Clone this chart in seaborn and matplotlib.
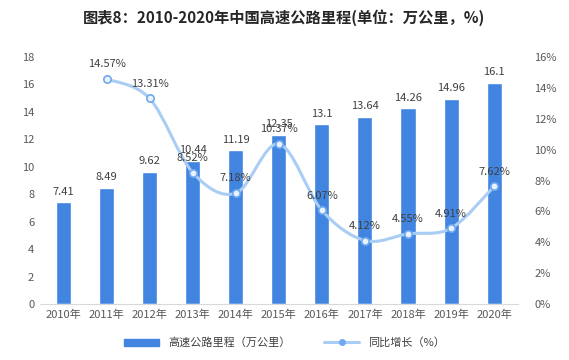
import numpy as np
import pandas as pd
import matplotlib
matplotlib.use("Agg")
import matplotlib.pyplot as plt
from matplotlib.path import Path
from matplotlib.patches import PathPatch
from matplotlib.lines import Line2D
from matplotlib.ticker import FuncFormatter
import seaborn as sns

# data
years = ["2010年", "2011年", "2012年", "2013年", "2014年", "2015年",
         "2016年", "2017年", "2018年", "2019年", "2020年"]
mileage = [7.41, 8.49, 9.62, 10.44, 11.19, 12.35, 13.1, 13.64, 14.26, 14.96, 16.1]
growth_years = years[1:]
growth = [14.57, 13.31, 8.52, 7.18, 10.37, 6.07, 4.12, 4.55, 4.91, 7.62]

bar_color = "#4185E0"
line_color = "#A9CDF5"
dot_color = "#6FA8EE"
text_color = "#404040"

sns.set_style("white")
plt.rcParams['font.family'] = ['Noto Sans CJK SC', 'DejaVu Sans']

df = pd.DataFrame({"year": years, "mileage": mileage})

fig = plt.figure(figsize=(5.69, 3.6), dpi=100)
ax = fig.add_axes([0.07, 0.155, 0.84, 0.687])

sns.barplot(data=df, x="year", y="mileage", color=bar_color, saturation=1,
            width=0.35, ax=ax)
ax.bar_label(ax.containers[0], labels=[f"{v:g}" for v in mileage],
             padding=4, fontsize=8, color=text_color)
ax.set_ylim(0, 18)
ax.set_yticks(range(0, 19, 2))
ax.set_xlim(-0.55, 10.55)
ax.set_xlabel("")
ax.set_ylabel("")
ax.tick_params(axis="both", length=0, labelsize=8, labelcolor="#595959", pad=4)
for s in ["top", "left", "right"]:
    ax.spines[s].set_visible(False)
ax.spines["bottom"].set_color("#D9D9D9")

# growth rate on the right axis, smoothed like the original
ax2 = ax.twinx()
ax2.set_ylim(0, 16)
ax2.set_yticks(range(0, 17, 2))
ax2.yaxis.set_major_formatter(FuncFormatter(lambda v, p: f"{v:.0f}%"))
ax2.tick_params(axis="y", length=0, labelsize=8, labelcolor="#595959", pad=12)
for s in ax2.spines.values():
    s.set_visible(False)

xs = np.array([years.index(y) for y in growth_years], dtype=float)
ys = np.array(growth, dtype=float)
pts = np.column_stack([xs, ys])
verts = [pts[0]]
codes = [Path.MOVETO]
n = len(pts)
for i in range(n - 1):
    p0 = pts[i - 1] if i > 0 else pts[i]
    p1 = pts[i]
    p2 = pts[i + 1]
    p3 = pts[i + 2] if i + 2 < n else pts[i + 1]
    verts += [p1 + (p2 - p0) / 6, p2 - (p3 - p1) / 6, p2]
    codes += [Path.CURVE4] * 3
ax2.add_patch(PathPatch(Path(verts, codes), fill=False, edgecolor=line_color,
                        lw=2.2, zorder=3))

gdf = pd.DataFrame({"x": xs, "growth": ys})
sns.scatterplot(data=gdf, x="x", y="growth", ax=ax2, s=28, color="#EAF3FD",
                edgecolor=dot_color, linewidth=1.2, zorder=4)
for x, g in zip(xs, growth):
    ax2.annotate(f"{g:.2f}%", (x, g), xytext=(0, 7), textcoords="offset points",
                 ha="center", va="bottom", fontsize=8, color=text_color)
ax2.set_xlabel("")
ax2.set_ylabel("")

fig.text(0.5, 0.95, "图表8：2010-2020年中国高速公路里程(单位：万公里，%)",
         ha="center", va="center", fontsize=11, fontweight="bold", color="#262626")

handles = [
    plt.Rectangle((0, 0), 1, 1, color=bar_color),
    Line2D([], [], color=line_color, lw=2.2, marker="o", markersize=4,
           markerfacecolor=dot_color, markeredgecolor=dot_color),
]
fig.legend(handles, ["高速公路里程（万公里）", "同比增长（%）"], loc="center",
           bbox_to_anchor=(0.5, 0.048), ncol=2, frameon=False, fontsize=8,
           handlelength=3.2, handleheight=0.6, columnspacing=3,
           labelcolor="#404040")

fig.savefig("out.png", dpi=100)
